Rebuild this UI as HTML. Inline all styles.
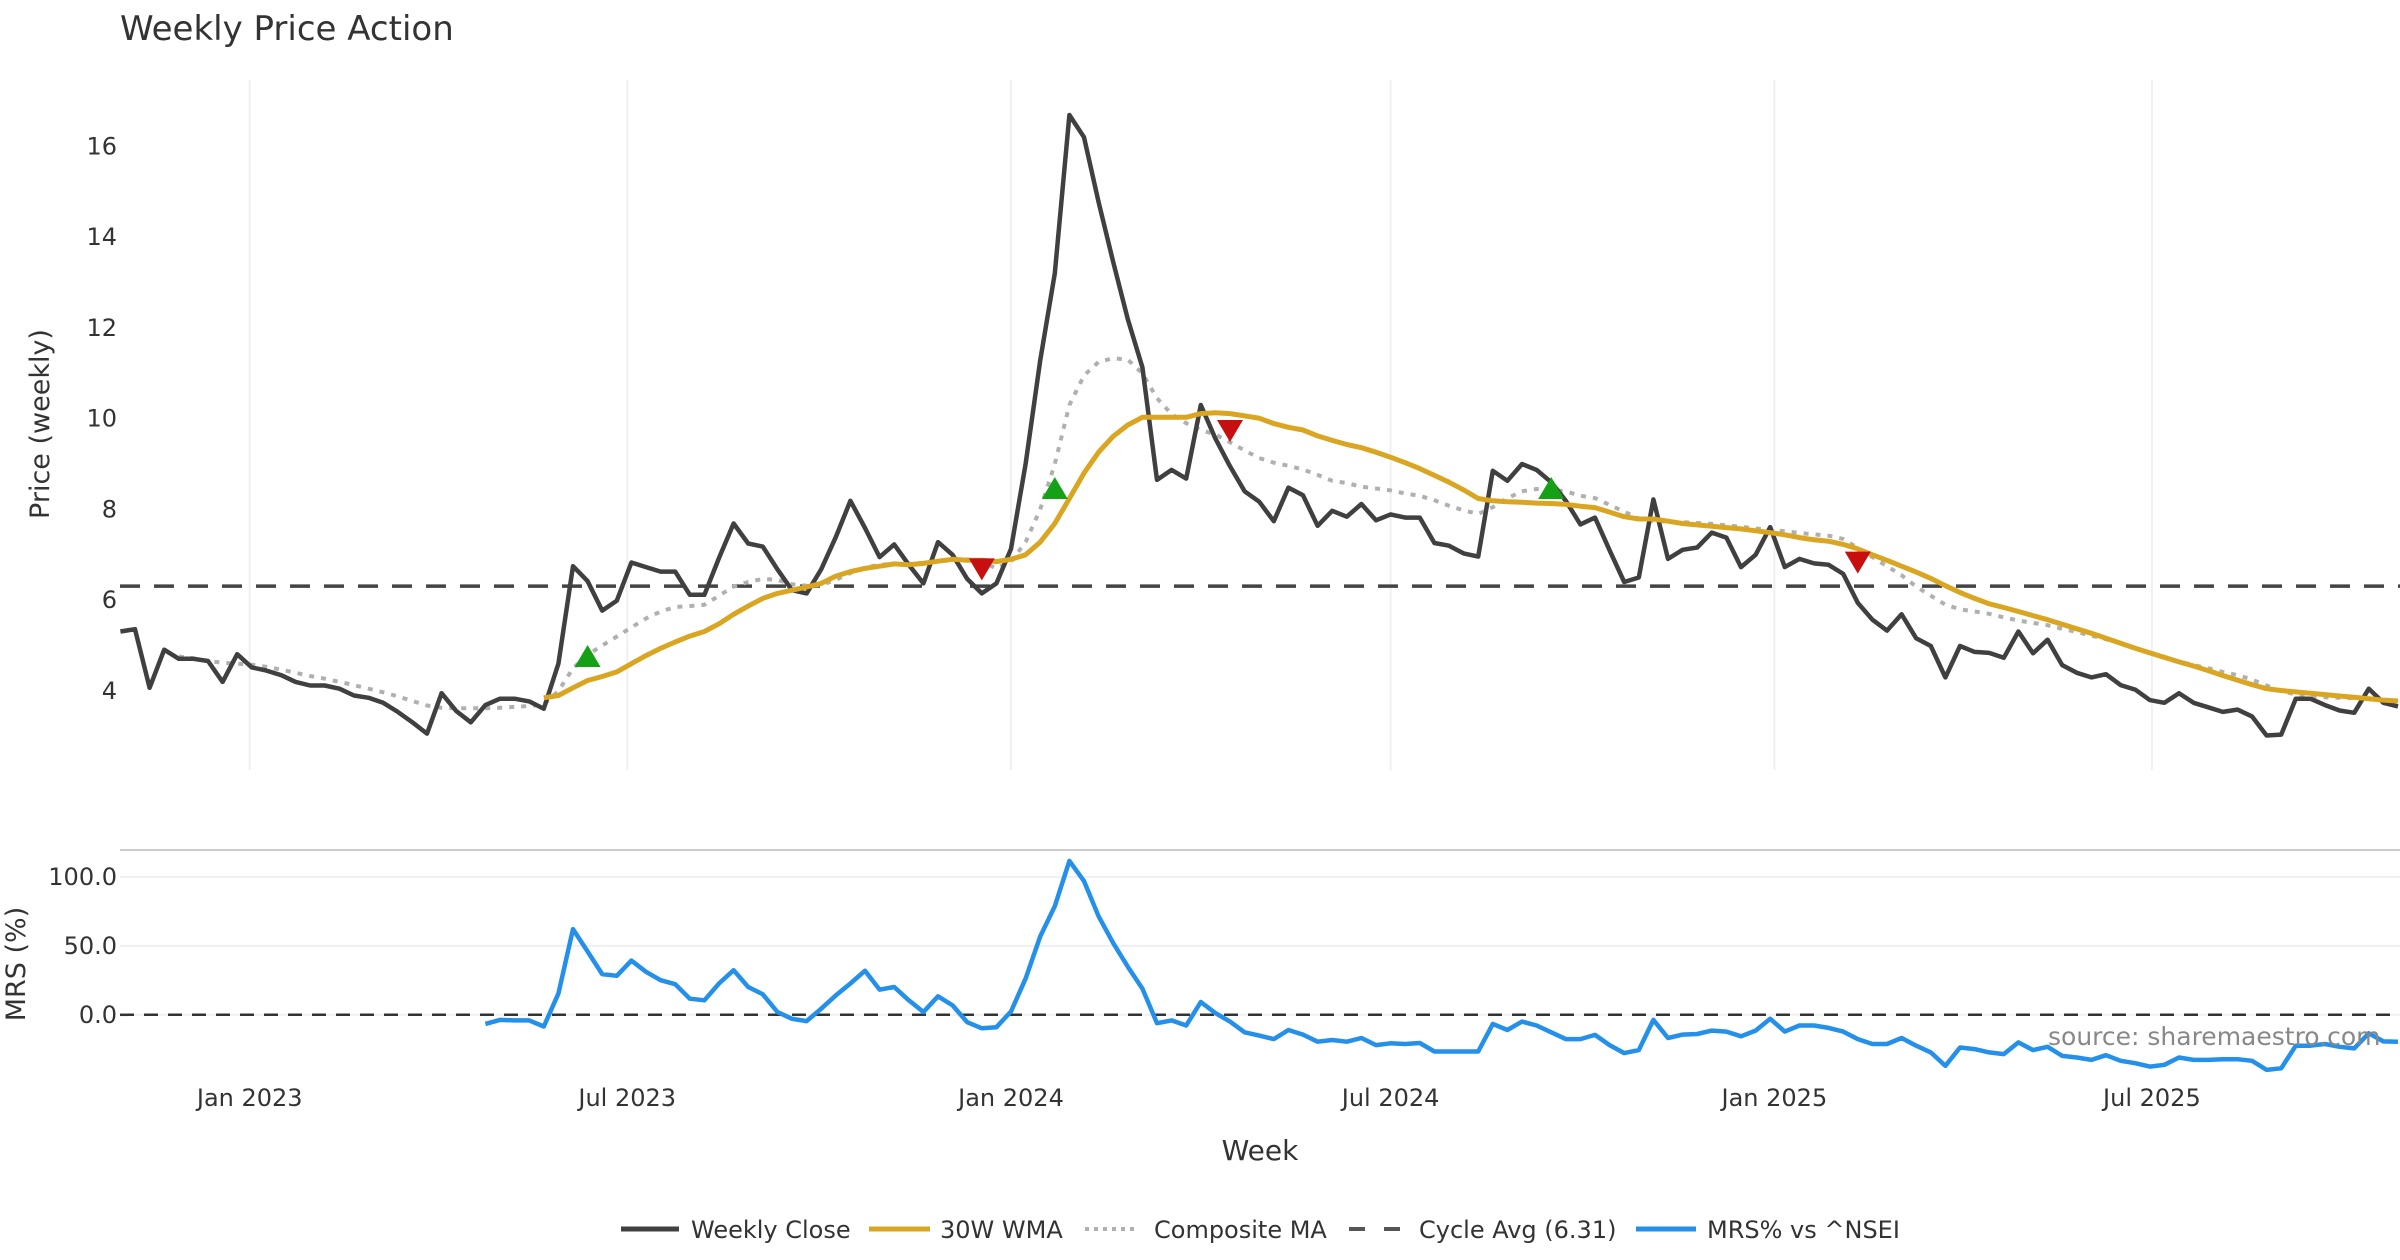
<!DOCTYPE html>
<html><head><meta charset="utf-8">
<style>
html,body{margin:0;padding:0;background:#fff;}
svg{display:block;font-family:"DejaVu Sans","Liberation Sans",sans-serif;}
</style></head>
<body>
<svg id="chart" width="2400" height="1260" viewBox="0 0 2400 1260" xmlns="http://www.w3.org/2000/svg">
<text x="120" y="40" font-size="34" fill="#333">Weekly Price Action</text>
<g id="priceGrid"></g>
<g id="mrsGrid"></g>
<g id="series"></g>
<g id="axes"></g>
<text transform="translate(49,424) rotate(-90)" text-anchor="middle" font-size="27" fill="#333">Price (weekly)</text>
<text transform="translate(25,964) rotate(-90)" text-anchor="middle" font-size="27" fill="#333">MRS (%)</text>
<text x="1260" y="1160" text-anchor="middle" font-size="28" fill="#333">Week</text>
<text x="2048" y="1045" font-size="25" fill="#888">source: sharemaestro.com</text>
<g id="legend">
  <g><line x1="621" y1="1229" x2="679" y2="1229" stroke="#404040" stroke-width="5"/><text x="691" y="1238" font-size="24" fill="#333">Weekly Close</text></g>
  <g><line x1="869" y1="1229" x2="930" y2="1229" stroke="#DAA520" stroke-width="5"/><text x="940" y="1238" font-size="24" fill="#333">30W WMA</text></g>
  <g><line x1="1085" y1="1229" x2="1139" y2="1229" stroke="#b0b0b0" stroke-width="4" stroke-dasharray="4,5"/><text x="1154" y="1238" font-size="24" fill="#333">Composite MA</text></g>
  <g><line x1="1349" y1="1229" x2="1400" y2="1229" stroke="#555" stroke-width="4" stroke-dasharray="16,19"/><text x="1419" y="1238" font-size="24" fill="#333">Cycle Avg (6.31)</text></g>
  <g><line x1="1636" y1="1229" x2="1696" y2="1229" stroke="#2490ea" stroke-width="5"/><text x="1707" y="1238" font-size="24" fill="#333">MRS% vs ^NSEI</text></g>
</g>
</svg>
<script>
const startDate = "2022-10-31";
const closeValues = [5.31,5.36,4.07,4.91,4.71,4.71,4.66,4.2,4.81,4.52,4.45,4.35,4.2,4.12,4.12,4.05,3.9,3.85,3.74,3.54,3.31,3.06,3.95,3.56,3.31,3.69,3.83,3.83,3.77,3.61,4.6,6.75,6.42,5.77,5.99,6.83,6.73,6.63,6.63,6.12,6.12,6.93,7.69,7.25,7.18,6.68,6.22,6.15,6.68,7.39,8.19,7.59,6.95,7.23,6.78,6.37,7.28,7.0,6.47,6.15,6.37,7.13,9.0,11.28,13.2,16.69,16.2,14.77,13.45,12.19,11.13,8.65,8.87,8.68,10.3,9.56,8.95,8.4,8.17,7.74,8.48,8.31,7.64,7.97,7.84,8.12,7.76,7.89,7.82,7.82,7.26,7.2,7.03,6.96,8.85,8.63,9.0,8.87,8.6,8.19,7.67,7.82,7.1,6.4,6.5,8.22,6.91,7.11,7.16,7.49,7.38,6.73,7.0,7.61,6.73,6.91,6.81,6.78,6.58,5.94,5.57,5.33,5.69,5.16,4.99,4.3,4.99,4.86,4.84,4.73,5.31,4.83,5.13,4.57,4.4,4.3,4.37,4.13,4.03,3.8,3.74,3.95,3.74,3.64,3.54,3.59,3.44,3.02,3.04,3.83,3.83,3.69,3.57,3.52,4.05,3.74,3.66];
const wmaStart = 29;
const wmaValues = [3.85,3.9,4.07,4.23,4.32,4.42,4.6,4.78,4.94,5.08,5.21,5.31,5.48,5.69,5.87,6.04,6.15,6.22,6.29,6.37,6.53,6.63,6.7,6.75,6.8,6.78,6.81,6.86,6.9,6.88,6.88,6.85,6.9,7.0,7.28,7.69,8.24,8.8,9.26,9.61,9.86,10.03,10.03,10.03,10.03,10.11,10.13,10.11,10.06,10.01,9.89,9.81,9.75,9.62,9.52,9.43,9.36,9.26,9.15,9.03,8.9,8.75,8.6,8.43,8.24,8.19,8.17,8.16,8.14,8.13,8.11,8.07,8.04,7.94,7.84,7.79,7.79,7.74,7.69,7.66,7.63,7.6,7.57,7.53,7.49,7.44,7.38,7.33,7.3,7.23,7.13,7.0,6.88,6.75,6.62,6.48,6.32,6.17,6.04,5.92,5.84,5.75,5.66,5.57,5.47,5.37,5.27,5.16,5.05,4.94,4.84,4.74,4.64,4.55,4.45,4.34,4.24,4.14,4.05,4.01,3.98,3.95,3.92,3.89,3.86,3.83,3.8,3.78];
const compStart = 4;
const compValues = [4.76,4.72,4.66,4.62,4.6,4.58,4.53,4.47,4.4,4.33,4.27,4.2,4.13,4.05,3.97,3.88,3.78,3.68,3.63,3.62,3.62,3.62,3.63,3.65,3.67,3.7,4.0,4.5,4.8,5.0,5.2,5.4,5.6,5.75,5.85,5.87,5.9,6.1,6.3,6.4,6.47,6.45,6.35,6.32,6.33,6.45,6.6,6.72,6.78,6.8,6.8,6.82,6.86,6.88,6.9,6.85,6.7,6.85,7.28,8.0,9.0,10.3,10.95,11.25,11.33,11.3,11.0,10.45,10.1,9.9,9.75,9.65,9.48,9.3,9.13,9.03,8.96,8.88,8.76,8.63,8.58,8.5,8.46,8.42,8.35,8.3,8.2,8.08,7.98,7.9,8.05,8.25,8.4,8.45,8.43,8.4,8.3,8.25,8.1,7.95,7.8,7.75,7.73,7.72,7.7,7.68,7.65,7.62,7.58,7.55,7.52,7.48,7.45,7.42,7.35,7.15,6.95,6.75,6.55,6.3,6.1,5.9,5.8,5.75,5.7,5.62,5.55,5.5,5.45,5.37,5.3,5.22,5.14,5.05,4.95,4.85,4.75,4.65,4.57,4.5,4.42,4.35,4.25,4.12,4.0,3.92,3.88,3.86,3.85,3.84,3.83,3.8,3.78];
const cycleAvg = 6.31;
const buyIdx = [32,64,98];
const buyVals = [4.75,8.45,8.45];
const sellIdx = [59,76,119];
const sellVals = [6.7,9.75,6.85];
const mrsStart = 25;
const mrsValues = [-6.6,-3.7,-4.1,-4.1,-8.5,15.4,62.2,45.9,29.5,28.3,39.3,31.2,25.1,22.2,11.7,10.5,22.7,32.4,20.2,14.9,2,-2.9,-4.6,4.4,14.1,22.7,32,18.3,20.2,10.5,2,13.4,6.8,-5.4,-9.8,-9,2.4,26.3,56.8,78.8,111.7,97,71.5,52,34.9,19,-6.1,-4.1,-7.8,9.3,1.2,-4.9,-12.7,-15.1,-17.6,-11,-14.4,-19.5,-18.3,-19.5,-16.8,-22,-20.7,-21.2,-20.5,-26.6,-26.6,-26.6,-26.6,-6.6,-11,-4.9,-7.8,-12.7,-17.6,-17.6,-14.6,-22,-27.8,-25.6,-3.7,-16.8,-14.4,-13.9,-11.5,-12.2,-15.6,-11.5,-2.9,-12.2,-7.8,-7.8,-9.5,-12.2,-17.6,-21.2,-21.2,-16.8,-22.4,-27.3,-37,-23.7,-24.9,-27.3,-28.5,-20,-25.6,-23.2,-29.8,-31,-32.7,-29.3,-33.4,-35.1,-37.6,-36.3,-31,-32.7,-32.7,-32.2,-32.2,-33.4,-40,-38.8,-22.4,-22.4,-21.2,-23.2,-24.4,-13.4,-19.3,-19.5];
const priceTicks = [4,6,8,10,12,14,16];
const mrsTicks = [0,50,100];
const mrsTickLabels = ["0.0","50.0","100.0"];
const dateTicks = ["2023-01-01","2023-07-01","2024-01-01","2024-07-01","2025-01-01","2025-07-01"];
const dateTickLabels = ["Jan 2023","Jul 2023","Jan 2024","Jul 2024","Jan 2025","Jul 2025"];

const NS = "http://www.w3.org/2000/svg";
const X0 = 120.4, DX = 14.6, PLOT_L = 120, PLOT_R = 2400;
function x(i){ return X0 + i*DX; }
function yP(v){ return 146.3 + (16 - v)*45.39; }
function yM(v){ return 1014.8 - v*1.378; }
function dateIdx(d){ return (new Date(d) - new Date(startDate))/(7*86400000); }
function mk(tag, attrs, parent){ const e=document.createElementNS(NS,tag); for(const k in attrs) e.setAttribute(k,attrs[k]); parent.appendChild(e); return e; }
const pg=document.getElementById('priceGrid'), mg=document.getElementById('mrsGrid'), sg=document.getElementById('series'), ax=document.getElementById('axes');

dateTicks.forEach((d,k)=>{
  const xx = x(dateIdx(d));
  const g = mk('line',{x1:xx,x2:xx,y1:80,y2:770,stroke:'#eef0f4','stroke-width':2},pg);
  
  
  const t = mk('text',{x:xx,y:1106,'text-anchor':'middle','font-size':24,fill:'#333'},ax);
  t.textContent = dateTickLabels[k];
  
  
});
priceTicks.forEach(v=>{
  const t = mk('text',{x:117,y:yP(v)+8,'text-anchor':'end','font-size':24,fill:'#333'},ax);
  t.textContent = v;
  
  
});
const border = mk('line',{x1:PLOT_L,x2:PLOT_R,y1:850,y2:850,stroke:'#ccc','stroke-width':2},mg);


mrsTicks.forEach((v,k)=>{
  const g = mk('line',{x1:PLOT_L,x2:PLOT_R,y1:yM(v),y2:yM(v),stroke:'#eef0f4','stroke-width':2},mg);
  
  
  const t = mk('text',{x:117,y:yM(v)+8,'text-anchor':'end','font-size':24,fill:'#333'},ax);
  t.textContent = mrsTickLabels[k];
  
  
});
function poly(vals, start, yf, attrs, name){
  const pts = vals.map((v,k)=>x(start+k).toFixed(1)+','+yf(v).toFixed(1)).join(' ');
  const p = mk('polyline',Object.assign({points:pts,fill:'none','stroke-linejoin':'round'},attrs),sg);
  
  
}
const cyc = mk('line',{x1:PLOT_L,x2:PLOT_R,y1:yP(cycleAvg),y2:yP(cycleAvg),stroke:'#444','stroke-width':3.5,'stroke-dasharray':'20,14'},sg);


const zl = mk('line',{x1:PLOT_L,x2:PLOT_R,y1:yM(0),y2:yM(0),stroke:'#333','stroke-width':2.5,'stroke-dasharray':'14,10'},sg);


poly(compValues, compStart, yP, {stroke:'#b0b0b0','stroke-width':4,'stroke-dasharray':'5,7'}, 'composite-ma-line');
poly(closeValues, 0, yP, {stroke:'#404040','stroke-width':4.5}, 'weekly-close-line');
poly(wmaValues, wmaStart, yP, {stroke:'#DAA520','stroke-width':5}, 'wma-30w-line');
poly(mrsValues, mrsStart, yM, {stroke:'#2490ea','stroke-width':4.5}, 'mrs-line');
buyIdx.forEach((i,k)=>{
  const cx=x(i), cy=yP(buyVals[k]);
  const t = mk('polygon',{points:`${cx-13},${cy+10} ${cx+13},${cy+10} ${cx},${cy-12}`,fill:'#16a016'},sg);
  
  
});
sellIdx.forEach((i,k)=>{
  const cx=x(i), cy=yP(sellVals[k]);
  const t = mk('polygon',{points:`${cx-13},${cy-10} ${cx+13},${cy-10} ${cx},${cy+12}`,fill:'#c80f0f'},sg);
  
  
});
</script>
</body></html>
